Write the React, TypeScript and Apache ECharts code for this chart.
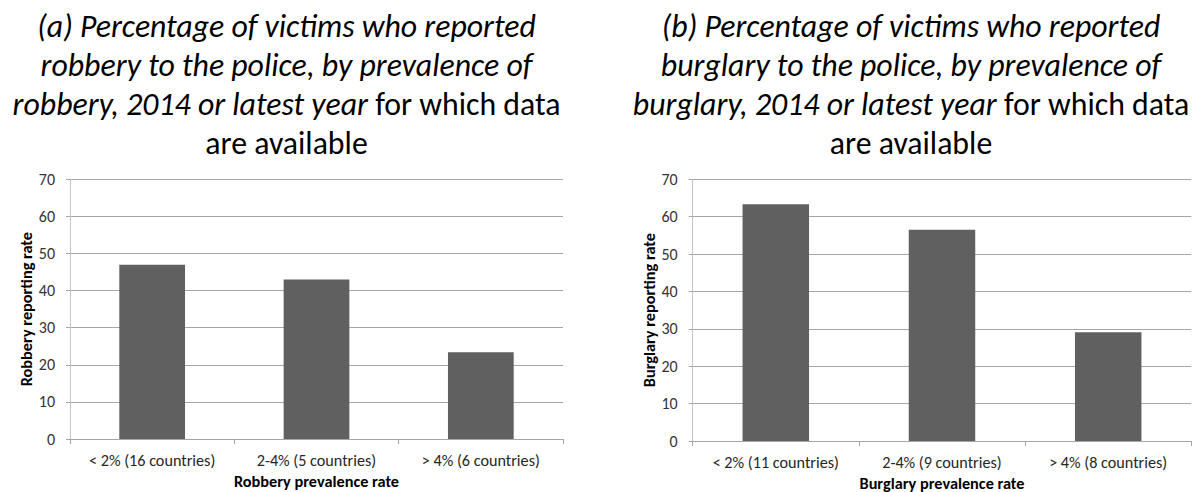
import React, { useEffect, useRef } from "react";
import * as echarts from "echarts";

// Panel (a): robbery
const robberyCategories = ["< 2% (16 countries)", "2-4% (5 countries)", "> 4% (6 countries)"];
const robberyRates = [47, 43, 23.4];
const robberyTitleLines = [
  "{i|(a) Percentage of victims who reported}",
  "{i|robbery to the police, by prevalence of}",
  "{i|robbery, 2014 or latest year}{n| for which data}",
  "{n|are available}",
];

// Panel (b): burglary
const burglaryCategories = ["< 2% (11 countries)", "2-4% (9 countries)", "> 4% (8 countries)"];
const burglaryRates = [63.3, 56.5, 29.1];
const burglaryTitleLines = [
  "{i|(b) Percentage of victims who reported}",
  "{i|burglary to the police, by prevalence of}",
  "{i|burglary, 2014 or latest year}{n| for which data}",
  "{n|are available}",
];

// Shared value axis
const yMin = 0;
const yMax = 70;
const yInterval = 10;

const FONT = "Carlito, Lato, 'Open Sans', sans-serif";
const TITLE_SIZE = 31.8;
const LABEL_SIZE = 16.2;
const TICK_SIZE = 16;
const NAME_SIZE = 16.3;
const BAR_COLOR = "#606060";
const GRID_COLOR = "#a6a6a6";

const titleRich = {
  i: { fontStyle: "italic", fontSize: TITLE_SIZE, lineHeight: 39, fontFamily: FONT, fill: "#000", align: "center" },
  n: { fontStyle: "normal", fontSize: TITLE_SIZE, lineHeight: 39, fontFamily: FONT, fill: "#000", align: "center" },
};

function xAxisFor(gridIndex: number, data: string[], name: string, nameGap: number) {
  return {
    gridIndex,
    type: "category",
    data,
    name,
    nameLocation: "middle",
    nameGap,
    nameTextStyle: { fontWeight: "bold", fontSize: NAME_SIZE, color: "#000", fontFamily: FONT },
    axisLine: { show: true, lineStyle: { color: GRID_COLOR, width: 1 } },
    axisTick: { show: true, length: 5, lineStyle: { color: GRID_COLOR } },
    axisLabel: { interval: 0, margin: 13, fontSize: LABEL_SIZE, color: "#262626", fontFamily: FONT },
    splitLine: { show: false },
  };
}

function yAxisFor(gridIndex: number, name: string) {
  return {
    gridIndex,
    type: "value",
    min: yMin,
    max: yMax,
    interval: yInterval,
    name,
    nameLocation: "middle",
    nameGap: 36,
    nameRotate: 90,
    nameTextStyle: { fontWeight: "bold", fontSize: NAME_SIZE, color: "#000", fontFamily: FONT },
    axisLine: { show: true, lineStyle: { color: "#c4c4c4", width: 1 } },
    axisTick: { show: true, length: 4, lineStyle: { color: GRID_COLOR } },
    axisLabel: { margin: 15, fontSize: TICK_SIZE, color: "#333", fontFamily: FONT },
    splitLine: { show: true, lineStyle: { color: GRID_COLOR, width: 1 } },
  };
}

export default function App() {
  const ref = useRef<HTMLDivElement>(null);

  useEffect(() => {
    if (!ref.current) return;
    const chart = echarts.init(ref.current, null, { renderer: "svg" });
    chart.setOption({
      animation: false,
      backgroundColor: "#fff",
      graphic: [
        {
          type: "text",
          x: 286.5,
          y: 7,
          style: {
            text: robberyTitleLines.join("\n"),
            rich: titleRich,
            align: "center",
            verticalAlign: "top",
          },
        },
        {
          type: "text",
          x: 911,
          y: 7,
          style: {
            text: burglaryTitleLines.join("\n"),
            rich: titleRich,
            align: "center",
            verticalAlign: "top",
          },
        },
      ],
      grid: [
        { left: 70, top: 179.3, width: 493, height: 259.7, containLabel: false, outerBoundsMode: "none" },
        { left: 692.7, top: 179.3, width: 498.6, height: 261.7, containLabel: false, outerBoundsMode: "none" },
      ],
      xAxis: [
        xAxisFor(0, robberyCategories, "Robbery prevalence rate", 33),
        xAxisFor(1, burglaryCategories, "Burglary prevalence rate", 31),
      ],
      yAxis: [yAxisFor(0, "Robbery reporting rate"), yAxisFor(1, "Burglary reporting rate")],
      series: [
        {
          type: "bar",
          xAxisIndex: 0,
          yAxisIndex: 0,
          data: robberyRates,
          barWidth: "40%",
          itemStyle: { color: BAR_COLOR },
        },
        {
          type: "bar",
          xAxisIndex: 1,
          yAxisIndex: 1,
          data: burglaryRates,
          barWidth: "40%",
          itemStyle: { color: BAR_COLOR },
        },
      ],
    });
    return () => chart.dispose();
  }, []);

  return (
    <div
      ref={ref}
      style={{ position: "absolute", left: 0, top: 0, width: 1196, height: 492 }}
    />
  );
}
